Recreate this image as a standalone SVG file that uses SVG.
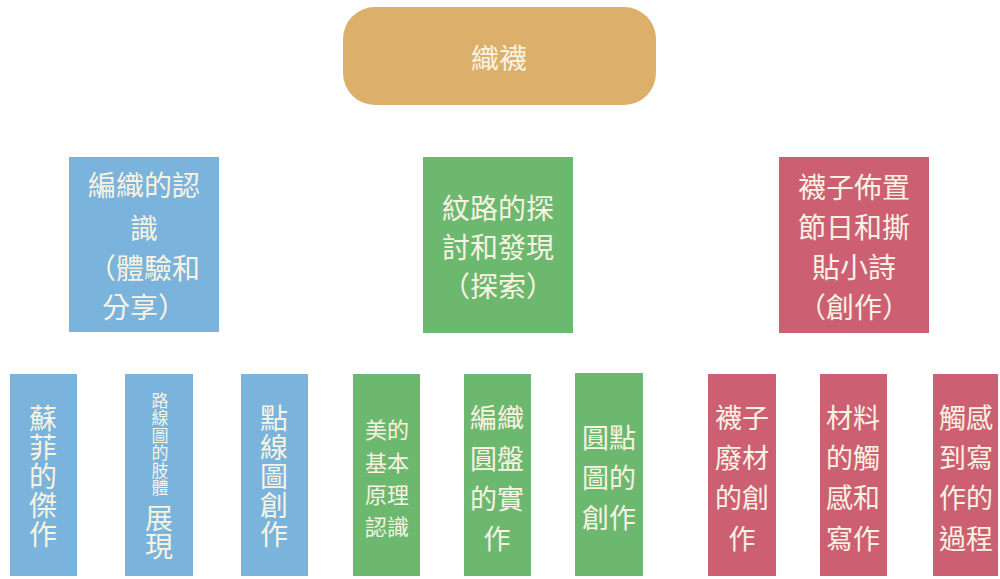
<svg xmlns="http://www.w3.org/2000/svg" width="1000" height="579" viewBox="0 0 1000 579">
<style>
text{font-family:"Noto Sans CJK TC","Noto Sans CJK SC",sans-serif;fill:#f8f3e2;text-anchor:middle}
.v{writing-mode:vertical-rl;text-anchor:start}
.t28{font-size:28px}
.t27{font-size:27px}
.t22{font-size:22px}
.t17{font-size:17px}
.blue{fill:#7ab3db}
.green{fill:#6db86f}
.red{fill:#cd5f73}
.gold{fill:#dcb06b}
</style>
<rect width="1000" height="579" fill="#ffffff"/>
<g id="connectors"/>
<g id="root">
<rect class="gold" x="343" y="7" width="313" height="98" rx="32"/>
<text class="t28" x="499" y="69">織襪</text>
</g>
<g id="n-blue">
<rect class="blue" x="69" y="157" width="150" height="175"/>
<text class="t28"><tspan x="144" y="196">編織的認</tspan><tspan x="144" y="239">識</tspan><tspan x="144" y="279">（體驗和</tspan><tspan x="144" y="318">分享）</tspan></text>
</g>
<g id="n-green">
<rect class="green" x="423" y="157" width="150" height="176"/>
<text class="t28"><tspan x="498" y="219">紋路的探</tspan><tspan x="498" y="258">討和發現</tspan><tspan x="498" y="297">（探索）</tspan></text>
</g>
<g id="n-red">
<rect class="red" x="779" y="157" width="150" height="176"/>
<text class="t28"><tspan x="854" y="198">襪子佈置</tspan><tspan x="854" y="238">節日和撕</tspan><tspan x="854" y="278">貼小詩</tspan><tspan x="854" y="318">（創作）</tspan></text>
</g>
<g id="b1">
<rect class="blue" x="10" y="374" width="67" height="202"/>
<text class="t28 v" x="43" y="404" letter-spacing="1">蘇菲的傑作</text>
</g>
<g id="b2">
<rect class="blue" x="125" y="374" width="68" height="202"/>
<text class="t17 v" x="160" y="392" letter-spacing="0.5">路線圖的肢體</text>
<text class="t28 v" x="159" y="504">展現</text>
</g>
<g id="b3">
<rect class="blue" x="241" y="374" width="67" height="202"/>
<text class="t28 v" x="274" y="404" letter-spacing="1">點線圖創作</text>
</g>
<g id="g1">
<rect class="green" x="353" y="374" width="67" height="202"/>
<text class="t22"><tspan x="387" y="438">美的</tspan><tspan x="387" y="471">基本</tspan><tspan x="387" y="503">原理</tspan><tspan x="387" y="535">認識</tspan></text>
</g>
<g id="g2">
<rect class="green" x="464" y="374" width="67" height="202"/>
<text class="t27"><tspan x="497" y="428">編織</tspan><tspan x="497" y="469">圓盤</tspan><tspan x="497" y="509">的實</tspan><tspan x="497" y="549">作</tspan></text>
</g>
<g id="g3">
<rect class="green" x="575" y="373" width="68" height="203"/>
<text class="t27"><tspan x="609" y="448">圓點</tspan><tspan x="609" y="488">圖的</tspan><tspan x="609" y="528">創作</tspan></text>
</g>
<g id="r1">
<rect class="red" x="708" y="374" width="68" height="202"/>
<text class="t27"><tspan x="742" y="428">襪子</tspan><tspan x="742" y="468">廢材</tspan><tspan x="742" y="508">的創</tspan><tspan x="742" y="549">作</tspan></text>
</g>
<g id="r2">
<rect class="red" x="820" y="374" width="67" height="202"/>
<text class="t27"><tspan x="853" y="428">材料</tspan><tspan x="853" y="468">的觸</tspan><tspan x="853" y="508">感和</tspan><tspan x="853" y="549">寫作</tspan></text>
</g>
<g id="r3">
<rect class="red" x="933" y="374" width="65" height="202"/>
<text class="t27"><tspan x="966" y="428">觸感</tspan><tspan x="966" y="468">到寫</tspan><tspan x="966" y="508">作的</tspan><tspan x="966" y="549">過程</tspan></text>
</g>
</svg>
